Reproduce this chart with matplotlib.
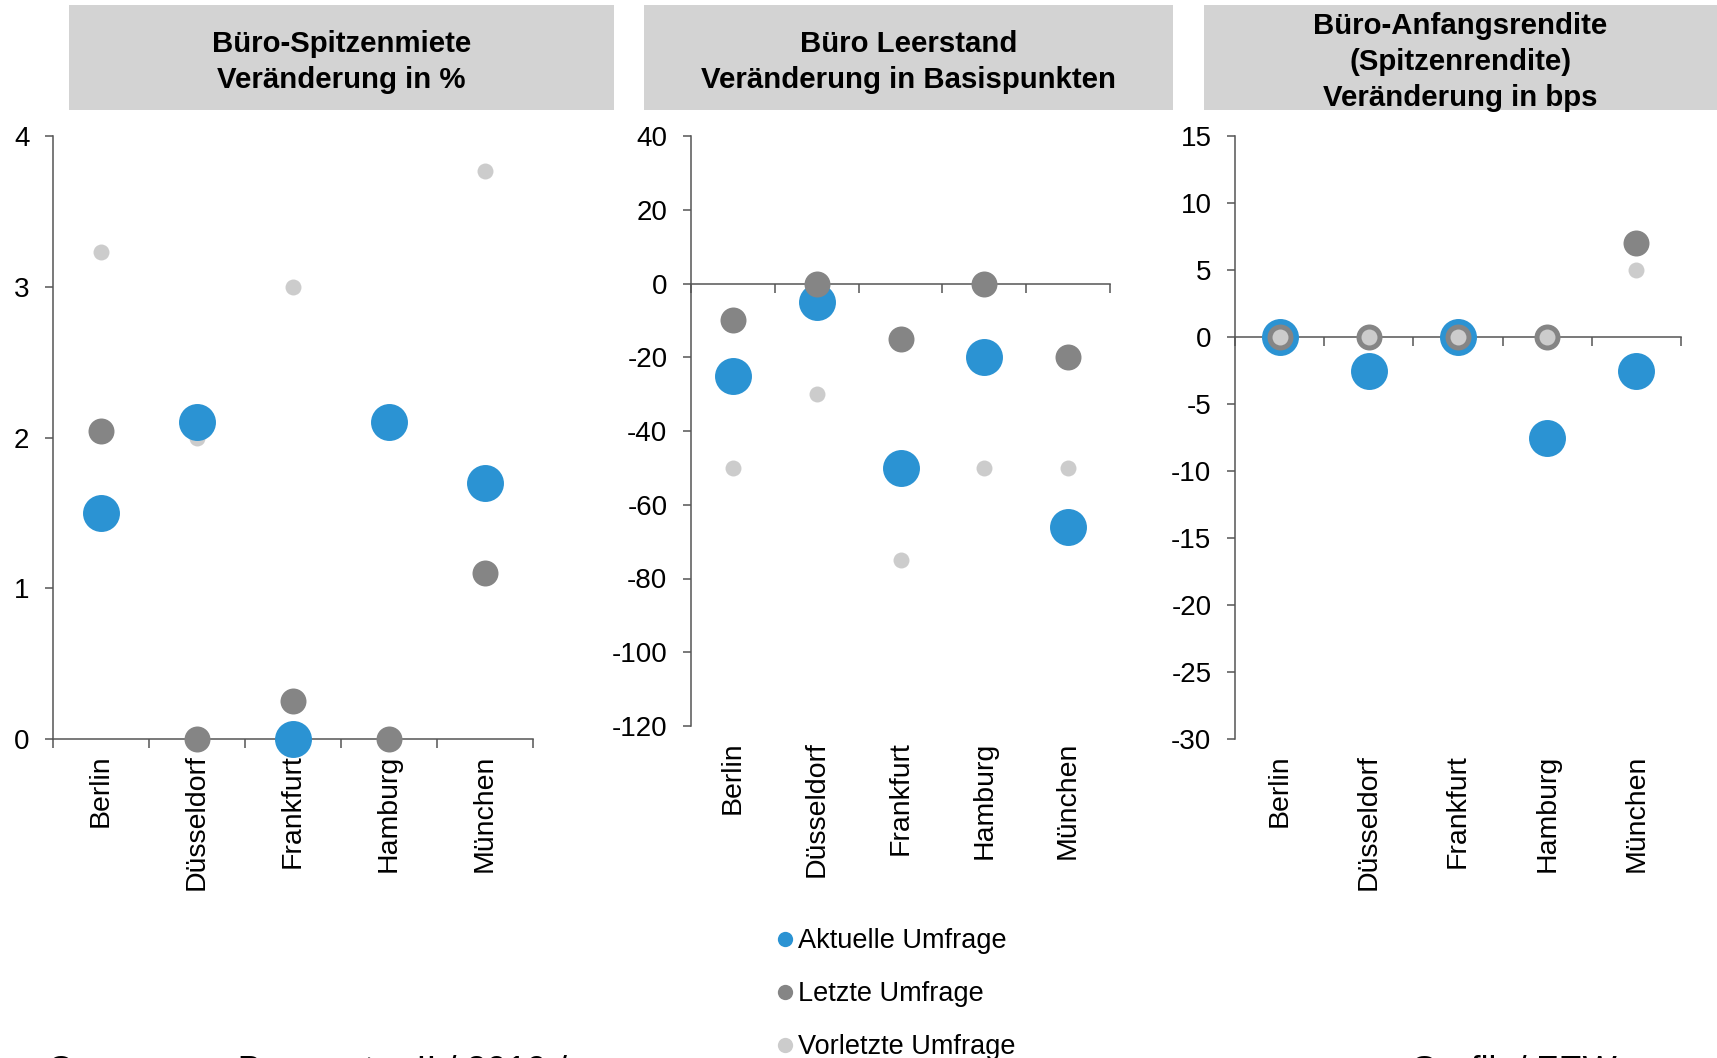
import numpy as np
import matplotlib
matplotlib.use("Agg")
import matplotlib.pyplot as plt
from matplotlib.patches import Rectangle
from matplotlib.lines import Line2D

plt.rcParams['font.family'] = ['Liberation Sans', 'DejaVu Sans']
plt.rcParams['axes.unicode_minus'] = False

staedte = ["Berlin", "Düsseldorf", "Frankfurt", "Hamburg", "München"]

# Spitzenmiete, Veraenderung in %
miete_aktuell = [1.5, 2.1, 0.0, 2.1, 1.7]
miete_letzte = [2.04, 0.0, 0.25, 0.0, 1.1]
miete_vorletzte = [3.23, 2.0, 3.0, 2.1, 3.77]

# Leerstand, Veraenderung in Basispunkten
leer_aktuell = [-25, -5, -50, -20, -66]
leer_letzte = [-10, 0, -15, 0, -20]
leer_vorletzte = [-50, -30, -75, -50, -50]

# Anfangsrendite, Veraenderung in bps
rendite_aktuell = [0, -2.5, 0, -7.5, -2.5]
rendite_letzte = [0, 0, 0, 0, 7]
rendite_vorletzte = [0, 0, 0, 0, 5]

titel = ["Büro-Spitzenmiete\nVeränderung in %",
         "Büro Leerstand\nVeränderung in Basispunkten",
         "Büro-Anfangsrendite\n(Spitzenrendite)\nVeränderung in bps"]
y_skalen = [(0, 4, 1), (-120, 40, 20), (-30, 15, 5)]
legende = ["Aktuelle Umfrage", "Letzte Umfrage", "Vorletzte Umfrage"]

BLAU = "#2b93d3"
GRAU = "#858585"
HELLGRAU = "#cccccc"
ACHSE = "#555555"
farben = [BLAU, GRAU, HELLGRAU]
groessen = [708, 350, 132]

W, H = 1717, 1058
fig = plt.figure(figsize=(W / 100, H / 100), dpi=100)


def rect(l, t, r, b):
    return [l / W, 1 - b / H, (r - l) / W, (b - t) / H]


achsen_pos = [(53, 136, 533, 739), (691, 136, 1110, 726), (1235, 136, 1681, 739)]
kopf_pos = [(69, 5, 614, 110), (644, 5, 1173, 110), (1204, 5, 1717, 110)]
daten = [(miete_aktuell, miete_letzte, miete_vorletzte),
         (leer_aktuell, leer_letzte, leer_vorletzte),
         (rendite_aktuell, rendite_letzte, rendite_vorletzte)]
# Reihenfolge der Ebenen (Aktuell, Letzte, Vorletzte)
ebenen = [(5, 4, 3), (3, 4, 5), (3, 4, 5)]

x = np.arange(len(staedte))
for i in range(3):
    ax = fig.add_axes(rect(*achsen_pos[i]))
    ymin, ymax, step = y_skalen[i]
    for werte, farbe, s, z in zip(daten[i], farben, groessen, ebenen[i]):
        ax.scatter(x, werte, s=s, color=farbe, linewidths=0, zorder=z, clip_on=False)

    ax.set_xlim(-0.5, len(staedte) - 0.5)
    ax.set_ylim(ymin, ymax)
    ax.set_yticks(np.arange(ymin, ymax + step, step))
    for sp in ["top", "right"]:
        ax.spines[sp].set_visible(False)
    ax.spines["left"].set_color(ACHSE)
    ax.spines["left"].set_linewidth(1.1)
    ax.spines["bottom"].set_position(("data", 0))
    ax.spines["bottom"].set_color(ACHSE)
    ax.spines["bottom"].set_linewidth(1.1)
    ax.set_xticks(np.arange(-0.5, len(staedte), 1), labels=[])
    ax.tick_params(axis="x", direction="out", length=6.5, width=1.1, color=ACHSE)
    ax.tick_params(axis="y", direction="out", length=6, width=1.1, color=ACHSE,
                   labelsize=20, pad=11)

    # Staedtenamen unterhalb der Achse
    sek = ax.secondary_xaxis("bottom")
    sek.set_xticks(x, labels=staedte, rotation=90)
    sek.tick_params(length=0, pad=11, labelsize=20.5)
    sek.spines["bottom"].set_visible(False)

    l, t, r, b = kopf_pos[i]
    fig.patches.append(Rectangle((l / W, 1 - b / H), (r - l) / W, (b - t) / H,
                                 transform=fig.transFigure, facecolor="#d3d3d3",
                                 edgecolor="none"))
    fig.text((l + r) / 2 / W, 1 - (t + b) / 2 / H - 0.004, titel[i], ha="center", va="center",
             fontsize=21.2, fontweight="bold", linespacing=1.36)

handles = [Line2D([], [], marker="o", ls="", color=c, markersize=11, markeredgewidth=0)
           for c in farben]
fig.legend(handles, legende, loc="upper left", bbox_to_anchor=(778 / W, 1 - 928 / H),
           frameon=False, fontsize=19.5, handlelength=0.5, handletextpad=0.25,
           labelspacing=1.0, borderpad=0, borderaxespad=0)

fig.text(47 / W, -24 / H, "Consensus Barometer II / 2019 /", fontsize=26, va="baseline")
fig.text(1410 / W, -24 / H, "Grafik / ZEW", fontsize=26, va="baseline")

fig.savefig("out.png", dpi=100)
